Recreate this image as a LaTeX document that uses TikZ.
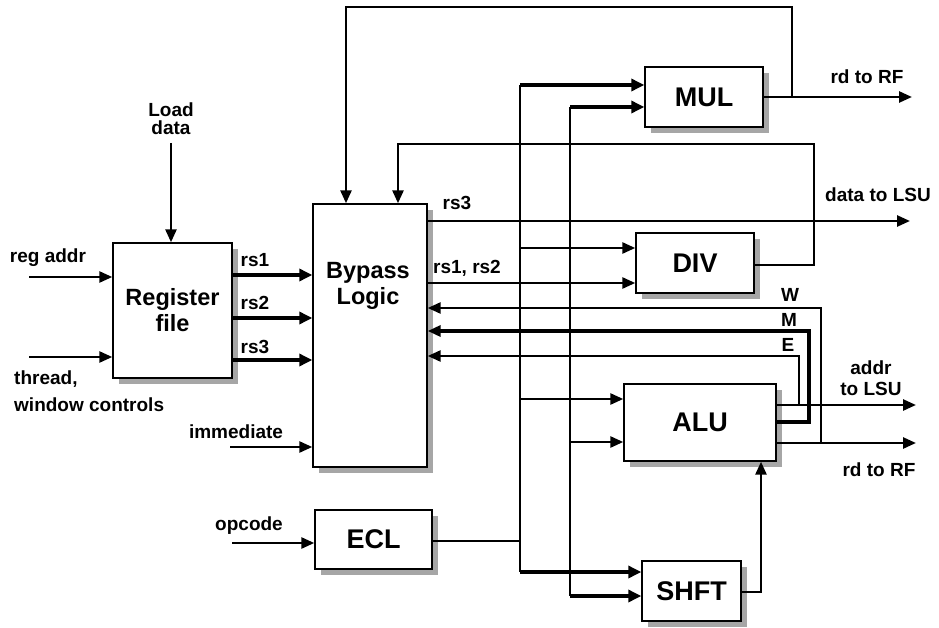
\documentclass[tikz,border=0pt]{standalone}
\usepackage{fontspec}
\setmainfont{Liberation Sans}
\usetikzlibrary{arrows.meta,shadows}
\begin{document}
\begin{tikzpicture}[x=1pt,y=-1pt,
  blk/.style={draw,line width=1.4pt,fill=white,inner sep=0pt,
     drop shadow={shadow xshift=6pt,shadow yshift=-6pt,fill=black!35,opacity=1}},
  unit/.style={blk,font=\fontsize{27}{30}\selectfont\bfseries},
  big/.style={font=\fontsize{23.5}{26}\selectfont\bfseries,align=center},
  lbl/.style={font=\fontsize{19}{18}\selectfont\bfseries,inner sep=0pt,align=center},
  wire/.style={line width=2.6pt},
  arr/.style={wire,-{Triangle[length=13pt,width=11pt]}},
  tarr/.style={line width=3.8pt,-{Triangle[length=13pt,width=12pt]}},
]
\useasboundingbox (0,0) rectangle (939,628);

% blocks
\node[blk,big,minimum width=119pt,minimum height=135pt] (RF) at (172.5,310.5) {Register\\file};
\node[blk,minimum width=114pt,minimum height=263pt] (BL) at (370,335.5) {};
\node[big] (BLt) at (368,286) {Bypass\\Logic};
\node[unit,minimum width=118pt,minimum height=60pt] (MUL) at (704,97) {MUL};
\node[unit,minimum width=118pt,minimum height=60pt] (DIV) at (695,263) {DIV};
\node[unit,minimum width=152pt,minimum height=77pt] (ALU) at (700,422.5) {ALU};
\node[unit,minimum width=117pt,minimum height=59pt] (ECL) at (373.5,539.5) {ECL};
\node[unit,minimum width=99pt,minimum height=60pt] (SHFT) at (691.5,591) {SHFT};

% labels
\node[lbl] (ld) at (171,119) {Load\\data};
\node[lbl] (ra) at (48,258) {reg addr};
\node[lbl,anchor=west,align=left,font=\fontsize{19}{27}\selectfont\bfseries] (th) at (14,391) {thread,\\window controls};
\node[lbl] (l1) at (255,260) {rs1};
\node[lbl] (l2) at (255,303) {rs2};
\node[lbl] (l3) at (255,347) {rs3};
\node[lbl] (im) at (236,432) {immediate};
\node[lbl] (op) at (249,526) {opcode};
\node[lbl] (lr3) at (457,203) {rs3};
\node[lbl] (lr12) at (467,268) {rs1, rs2};
\node[lbl] (rdm) at (867,77) {rd to RF};
\node[lbl] (dls) at (878,195) {data to LSU};
\node[lbl] (lw) at (790,295) {W};
\node[lbl] (lm) at (789,320) {M};
\node[lbl] (le) at (788,345) {E};
\node[lbl,font=\fontsize{19}{21}\selectfont\bfseries] (als) at (871,378) {addr\\to LSU};
\node[lbl] (rda) at (879,470) {rd to RF};

% free ends
\coordinate (ldA) at (171,143);
\coordinate (raA) at (29,277);
\coordinate (thA) at (29,357);
\coordinate (imA) at (230,447);
\coordinate (opA) at (232,543);
\coordinate (mulO) at (912,97);
\coordinate (lsuO) at (910,221);
\coordinate (addrO) at (916,405);
\coordinate (rdO) at (916,443);
\coordinate (t1) at (792,97);
\coordinate (b1) at (520,85);
\coordinate (b2) at (570,107);

% inputs to register file
\draw[arr] (ldA) -- (ldA |- RF.north);
\draw[arr] (raA) -- (raA -| RF.west);
\draw[arr] (thA) -- (thA -| RF.west);
\draw[tarr] (RF.east |- 0,275) -- (BL.west |- 0,275);
\draw[tarr] (RF.east |- 0,318) -- (BL.west |- 0,318);
\draw[tarr] (RF.east |- 0,360) -- (BL.west |- 0,360);
\draw[arr] (imA) -- (imA -| BL.west);
\draw[arr] (opA) -- (opA -| ECL.west);

% feedback loops
\draw[arr] (t1) -- (792,7) -- (346,7) -- (346,0 |- BL.north);
\draw[arr] (DIV.east |- 0,265) -- (814,265) -- (814,144) -- (398,144) -- (398,0 |- BL.north);

% outputs
\draw[arr] (MUL.east) -- (mulO);
\draw[arr] (BL.east |- 0,221) -- (lsuO);
\draw[arr] (BL.east |- 0,283) -- (DIV.west |- 0,283);

% W M E
\draw[arr] (821,443) -- (821,308) -- (BL.east |- 0,308);
\draw[arr,line width=3.3pt] (ALU.east |- 0,422) -- (809,422) -- (809,331) -- (BL.east |- 0,331);
\draw[arr] (799,405) -- (799,356) -- (BL.east |- 0,356);
\draw[arr] (ALU.east |- 0,405) -- (addrO);
\draw[arr] (ALU.east |- 0,443) -- (rdO);

% bus 1
\draw[wire] (b1) -- (520,572);
\draw[tarr] (b1) -- (b1 -| MUL.west);
\draw[arr] (520,248) -- (DIV.west |- 0,248);
\draw[arr] (520,399) -- (ALU.west |- 0,399);
\draw[tarr] (520,572) -- (SHFT.west |- 0,572);
\draw[wire] (ECL.east |- 0,541) -- (520,541);

% bus 2
\draw[wire] (b2) -- (570,596);
\draw[tarr] (b2) -- (b2 -| MUL.west);
\draw[arr] (570,442) -- (ALU.west |- 0,442);
\draw[tarr] (570,596) -- (SHFT.west |- 0,596);

% shifter to ALU
\draw[arr] (SHFT.east |- 0,592) -- (761,592) -- (761,0 |- ALU.south);
\end{tikzpicture}
\end{document}
